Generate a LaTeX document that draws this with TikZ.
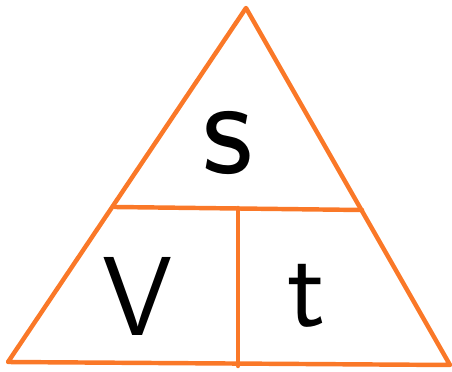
\documentclass[tikz,border=0pt]{standalone}
\usepackage{fontspec}
\usetikzlibrary{positioning}
\definecolor{triorange}{RGB}{250,120,40}

\begin{document}
\begin{tikzpicture}[
        x=0.03cm, y=-0.03cm,
        edge/.style={draw=triorange, line width=3.8pt, line join=round, line cap=round},
        letter/.style={inner sep=0pt, font=\sffamily\fontsize{96}{96}\selectfont}
    ]
        \useasboundingbox (0,0) rectangle (452,372);
        % corners of the triangle
        \coordinate (apex) at (246,8);
        \coordinate (botleft) at (8,362);
        \coordinate (botright) at (450,365);
        \coordinate (midleft) at (115,207);
        \coordinate (midright) at (362,210);
        \coordinate (divtop) at (238,208);
        \coordinate (divbot) at (238,366);
        \draw[edge] (apex) -- (botright) -- (botleft) -- cycle;
        \draw[edge] (midleft) -- (midright);
        \draw[edge] (divtop) -- (divbot);
        % letters
        \node[letter, font=\sffamily\fontsize{120}{120}\selectfont] (dist) at (228,143) {s};
        \node[letter] (speed) at (138,296) {V};
        \node[letter] (time) at (307,296) {t};
    \end{tikzpicture}
\end{document}
